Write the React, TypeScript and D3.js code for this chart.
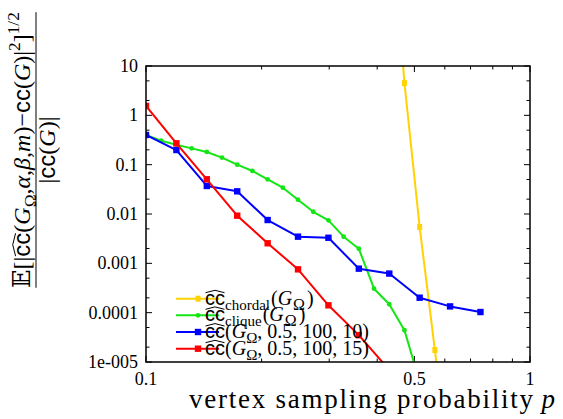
import React, { useRef, useEffect } from 'react';
import * as d3 from 'd3';

const W = 563;
const H = 419;
const SERIF = "'Liberation Serif', 'Times New Roman', Times, 'DejaVu Serif', serif";
const SANS = "'Liberation Sans', Arial, 'DejaVu Sans', sans-serif";

// sampling probabilities
const pCoarse = [0.1, 0.12, 0.144, 0.1728, 0.2074, 0.2488, 0.2986, 0.3583, 0.43, 0.516, 0.6192, 0.743];
const pFine = [0.1, 0.1095, 0.12, 0.1315, 0.144, 0.1577, 0.1728, 0.1893, 0.2074, 0.2272, 0.2488,
    0.2726, 0.2986, 0.3271, 0.3583, 0.3925, 0.43, 0.471, 0.516, 0.5653, 0.6192];

// relative errors
const chordalP = [0.43, 0.471, 0.516, 0.5653, 0.6192];
const chordalErr = [5e4, 4.5, 0.00545, 1.75e-5, 5e-8];
const cliqueP = pFine.slice(0, 19);
const cliqueErr = [0.40, 0.306, 0.254, 0.214, 0.181, 0.139, 0.100, 0.0745, 0.0505, 0.0341, 0.0195,
    0.0111, 0.00745, 0.00347, 0.00198, 0.000306, 0.000148, 4.4e-5, 4e-6];
const est10P = pCoarse;
const est10Err = [0.40, 0.198, 0.037, 0.0288, 0.00755, 0.00347, 0.0033, 0.00078, 0.00062, 0.000201, 0.000134, 0.000103];
const est15P = pCoarse.slice(0, 9);
const est15Err = [1.55, 0.271, 0.0505, 0.00925, 0.00255, 0.000755, 0.000141, 3.5e-5, 6.9e-6];

const xTicks = [0.1, 0.2, 0.3, 0.4, 0.5, 0.6, 0.7, 0.8, 0.9, 1];
const xTickLabels = ['0.1', '', '', '', '0.5', '', '', '', '', '1'];
const yTicks = [10, 1, 0.1, 0.01, 0.001, 0.0001, 1e-5];
const yTickLabels = ['10', '1', '0.1', '0.01', '0.001', '0.0001', '1e-005'];

type Part = { t: string; sans?: boolean; italic?: boolean; shift?: number; scale?: number; hat?: boolean; dx?: number };

const series = [
    {
        p: chordalP, v: chordalErr, color: '#ffd200', marker: 'star',
        label: [{ t: 'cc', sans: true, hat: true }, { t: 'chordal', shift: 0.25, scale: 0.75 },
            { t: '(', dx: 1 }, { t: 'G', italic: true }, { t: 'Ω', shift: 0.25, scale: 0.8, dx: 1 }, { t: ')', dx: 2 }] as Part[],
    },
    {
        p: cliqueP, v: cliqueErr, color: '#14e614', marker: 'dot',
        label: [{ t: 'cc', sans: true, hat: true }, { t: 'clique', shift: 0.25, scale: 0.75 },
            { t: '(', dx: 1 }, { t: 'G', italic: true }, { t: 'Ω', shift: 0.25, scale: 0.8, dx: 1 }, { t: ')', dx: 2 }] as Part[],
    },
    {
        p: est10P, v: est10Err, color: '#0000ff', marker: 'box',
        label: [{ t: 'cc', sans: true, hat: true }, { t: '(' }, { t: 'G', italic: true },
            { t: 'Ω', shift: 0.25, scale: 0.75 }, { t: ', 0.5, 100, 10)' }] as Part[],
    },
    {
        p: est15P, v: est15Err, color: '#ff0000', marker: 'box',
        label: [{ t: 'cc', sans: true, hat: true }, { t: '(' }, { t: 'G', italic: true },
            { t: 'Ω', shift: 0.25, scale: 0.75 }, { t: ', 0.5, 100, 15)' }] as Part[],
    },
];

const yLabelNum: Part[] = [
    { t: '𝔼[|' }, { t: 'cc', sans: true, hat: true }, { t: '(' }, { t: 'G', italic: true },
    { t: 'Ω', shift: 0.25, scale: 0.72 }, { t: ',' }, { t: 'α', italic: true }, { t: ',' },
    { t: 'β', italic: true }, { t: ',' }, { t: 'm', italic: true }, { t: ')−' },
    { t: 'cc', sans: true }, { t: '(' }, { t: 'G', italic: true }, { t: ')|' },
    { t: '2', shift: -0.4, scale: 0.72 }, { t: ']' }, { t: '1/2', shift: -0.45, scale: 0.72 },
];
const yLabelDen: Part[] = [{ t: '|' }, { t: 'cc', sans: true }, { t: '(' }, { t: 'G', italic: true }, { t: ')|' }];

function drawRich(g: any, x: number, y: number, size: number, parts: Part[], anchor = 'start') {
    const text = g.append('text')
        .attr('x', x).attr('y', y)
        .attr('text-anchor', anchor)
        .style('font-family', SERIF)
        .style('font-size', size + 'px')
        .attr('fill', '#000');
    let cur = 0;
    const hats: any[] = [];
    parts.forEach(p => {
        const sh = (p.shift || 0) * size;
        const ts = text.append('tspan').text(p.t).attr('dy', sh - cur);
        cur = sh;
        if (p.dx) ts.attr('dx', p.dx);
        if (p.sans) ts.style('font-family', SANS);
        if (p.italic) ts.style('font-style', 'italic');
        if (p.scale) ts.style('font-size', size * p.scale + 'px');
        if (p.hat) hats.push(ts.node());
    });
    hats.forEach(node => {
        const a = node.getStartPositionOfChar(0);
        const b = node.getEndPositionOfChar(node.getNumberOfChars() - 1);
        const yb = a.y;
        g.append('path')
            .attr('d', `M${a.x + 0.5},${yb - 0.6 * size} L${(a.x + b.x) / 2},${yb - 0.72 * size} L${b.x - 0.5},${yb - 0.6 * size}`)
            .attr('fill', 'none')
            .attr('stroke', '#000')
            .attr('stroke-width', 1);
    });
    return text;
}

function drawMarker(g: any, kind: string, cx: number, cy: number, color: string) {
    if (kind === 'dot') {
        g.append('circle').attr('cx', cx).attr('cy', cy).attr('r', 2.4).attr('fill', color);
    } else if (kind === 'star') {
        g.append('rect').attr('x', cx - 2.5).attr('y', cy - 3).attr('width', 5).attr('height', 6)
            .attr('fill', color);
    } else {
        g.append('rect').attr('x', cx - 3.2).attr('y', cy - 3.2).attr('width', 6.4).attr('height', 6.4)
            .attr('fill', color);
    }
}

const App: React.FC = () => {
    const svgRef = useRef<SVGSVGElement>(null);

    useEffect(() => {
        if (!svgRef.current) return;
        const svg = d3.select(svgRef.current);
        svg.selectAll('*').remove();

        const left = 146, right = 530, top = 66, bottom = 362;

        const x = d3.scaleLog().domain([0.1, 1]).range([left, right]);
        const y = d3.scaleLog().domain([1e-5, 10]).range([bottom, top]);

        svg.append('defs').append('clipPath').attr('id', 'plotclip')
            .append('rect').attr('x', left).attr('y', top)
            .attr('width', right - left).attr('height', bottom - top);

        // ticks
        const ticks = svg.append('g').attr('stroke', '#000').attr('stroke-width', 1);
        xTicks.forEach((t, i) => {
            const len = xTickLabels[i] ? 6 : 3.5;
            ticks.append('line').attr('x1', x(t)).attr('x2', x(t)).attr('y1', bottom).attr('y2', bottom - len);
            ticks.append('line').attr('x1', x(t)).attr('x2', x(t)).attr('y1', top).attr('y2', top + len);
        });
        const yMinor: number[] = [];
        yTicks.slice(0, -1).forEach(t => { yMinor.push(t / 2, t / 5); });
        yTicks.forEach(t => {
            ticks.append('line').attr('x1', left).attr('x2', left + 6).attr('y1', y(t)).attr('y2', y(t));
            ticks.append('line').attr('x1', right).attr('x2', right - 6).attr('y1', y(t)).attr('y2', y(t));
        });
        yMinor.forEach(t => {
            ticks.append('line').attr('x1', left).attr('x2', left + 3.5).attr('y1', y(t)).attr('y2', y(t));
            ticks.append('line').attr('x1', right).attr('x2', right - 3.5).attr('y1', y(t)).attr('y2', y(t));
        });

        // tick labels
        const lab = svg.append('g').style('font-family', SERIF).style('font-size', '18px').attr('fill', '#000');
        yTicks.forEach((t, i) => {
            lab.append('text').attr('x', 138).attr('y', y(t)).attr('dy', '0.34em')
                .attr('text-anchor', 'end').text(yTickLabels[i]);
        });
        xTicks.forEach((t, i) => {
            if (!xTickLabels[i]) return;
            lab.append('text').attr('x', x(t)).attr('y', 385)
                .attr('text-anchor', 'middle').text(xTickLabels[i]);
        });

        // series
        const plot = svg.append('g').attr('clip-path', 'url(#plotclip)');
        const line = d3.line<[number, number]>().x(d => x(d[0])).y(d => y(d[1]));
        series.forEach(s => {
            const pts: [number, number][] = s.p.map((p, i) => [p, s.v[i]]);
            plot.append('path').attr('d', line(pts))
                .attr('fill', 'none').attr('stroke', s.color).attr('stroke-width', 2)
                .attr('stroke-linejoin', 'round');
            pts.forEach(d => drawMarker(plot, s.marker, x(d[0]), y(d[1]), s.color));
        });

        // frame
        svg.append('rect').attr('x', left).attr('y', top)
            .attr('width', right - left).attr('height', bottom - top)
            .attr('fill', 'none').attr('stroke', '#000').attr('stroke-width', 1.5);

        // legend
        const legY = [298.7, 315.3, 332, 348.7];
        const leg = svg.append('g');
        series.forEach((s, i) => {
            leg.append('line').attr('x1', 176).attr('x2', 219).attr('y1', legY[i]).attr('y2', legY[i])
                .attr('stroke', s.color).attr('stroke-width', 2);
            drawMarker(leg, s.marker, 198, legY[i], s.color);
            drawRich(leg, 205, legY[i] + 6, 20, s.label);
        });

        // x axis title
        const xt = svg.append('text').attr('x', 189).attr('y', 408)
            .style('font-family', SERIF).style('font-size', '27px').attr('fill', '#000');
        xt.append('tspan').text('vertex sampling probability')
            .attr('textLength', 344).attr('lengthAdjust', 'spacing');
        xt.append('tspan').text(' p').style('font-style', 'italic');

        // y axis title (fraction)
        const yg = svg.append('g').attr('transform', 'translate(0,150) rotate(-90)');
        const num = drawRich(yg, 0, 30, 24, yLabelNum, 'middle');
        const bw = (num.node() as SVGTextElement).getBBox().width;
        yg.append('line').attr('x1', -bw / 2).attr('x2', bw / 2).attr('y1', 36).attr('y2', 36)
            .attr('stroke', '#000').attr('stroke-width', 1);
        drawRich(yg, 0, 55, 24, yLabelDen, 'middle');
    }, []);

    return (
        <svg ref={svgRef} width={W} height={H}
            style={{ position: 'absolute', left: 0, top: 0, background: '#fff' }} />
    );
};

export default App;
